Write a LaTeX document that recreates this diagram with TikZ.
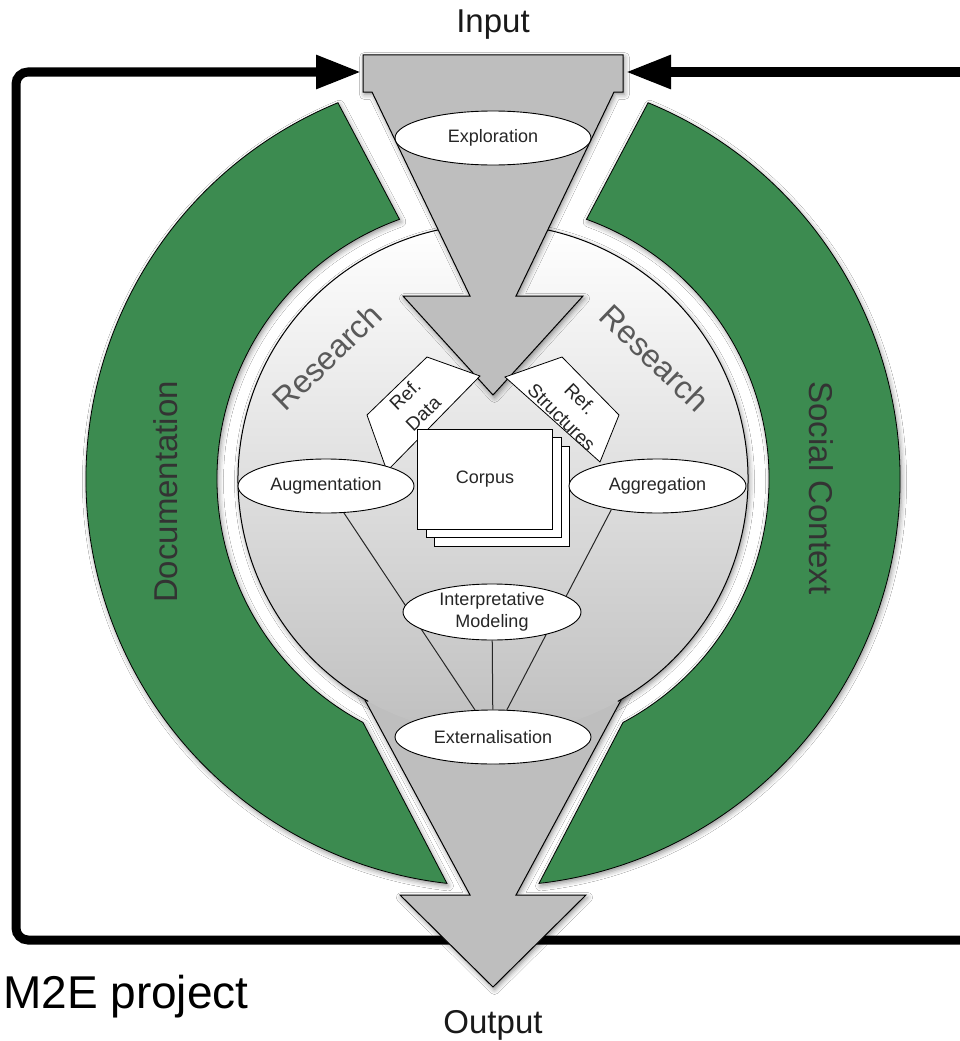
\documentclass[tikz,border=0pt]{standalone}
\usepackage{fontspec}
\setmainfont{Liberation Sans}
\usetikzlibrary{shapes.geometric,arrows.meta,shadows.blur}
\definecolor{ringgreen}{RGB}{60,139,80}
\definecolor{funnelgray}{RGB}{190,190,190}
\begin{document}
\begin{tikzpicture}[x=1pt,y=-1pt,
  shad/.style={blur shadow={shadow xshift=1.5pt, shadow yshift=-2.5pt, shadow blur radius=5pt, shadow opacity=45}},
  greenpiece/.style={fill=ringgreen, draw=black, line width=0.8pt, shad},
  arrowshape/.style={fill=funnelgray, draw=black, line width=1pt, shad},
  bubble/.style={ellipse, draw=black, line width=0.9pt, fill=white, inner sep=0pt,
    minimum height=54pt, font=\fontsize{18}{22}\selectfont, text=black!85, align=center},
  tagshape/.style={fill=white, draw=black, line width=0.8pt},
  tagtext/.style={font=\fontsize{19}{26}\selectfont, text=black!85, align=center, inner sep=0pt},
  pagebox/.style={rectangle, draw=black, line width=1pt, fill=white,
    minimum width=135pt, minimum height=100pt, inner sep=0pt},
  loopline/.style={line width=9pt, draw=black},
  bigtip/.style={-{Triangle[length=45pt,width=32pt]}},
  link/.style={draw=black!85, line width=1pt},
  bigtext/.style={font=\fontsize{33}{40}\selectfont, text=black!90},
  researchtext/.style={font=\fontsize{32}{38}\selectfont, text=black!65},
  ringtext/.style={font=\fontsize{33}{40}\selectfont, text=black!80},
]
\useasboundingbox (0,0) rectangle (959,1041);
\fill[white] (0,0) rectangle (959,1041);

% centre of the circles
\coordinate (C) at (493,479);

% feedback loop
\coordinate (fL) at (361,72);
\coordinate (fR) at (626,72);
\coordinate (loopTL) at (16,72);
\coordinate (loopBL) at (16,940);
\coordinate (loopBR) at (975,940);
\coordinate (loopTR) at (975,72);
\draw[loopline, rounded corners=12pt, bigtip] (loopBR) -- (loopBL) -- (loopTL) -- (fL);
\draw[loopline, bigtip] (loopTR) -- (fR);

% green ring pieces
\path[greenpiece] ([shift={(112.4:407pt)}]C) arc[start angle=112.4, end angle=263.5, radius=407pt]
  -- ([shift={(241.9:276pt)}]C) arc[start angle=241.9, end angle=109.8, radius=276pt] -- cycle;
\path[greenpiece] ([shift={(67.6:407pt)}]C) arc[start angle=67.6, end angle=-83.5, radius=407pt]
  -- ([shift={(-61.9:276pt)}]C) arc[start angle=-61.9, end angle=70.2, radius=276pt] -- cycle;
\node[ringtext, rotate=90] (doc) at (166,492) {Documentation};
\node[ringtext, rotate=-90] (soc) at (821,488) {Social Context};

% shadow of the inner circle (drawn below the output arrow)
\path[shad] (C) circle[radius=255pt];

% output arrow
\path[arrowshape] (338,650) -- (470,895) -- (400,895) -- (493,987) -- (586,895) -- (516,895) -- (648,650) -- cycle;

% inner circle
\path[top color=white, bottom color=black!25] (C) circle[radius=255pt];
\draw[line width=1pt] ([shift={(-60.7:255pt)}]C) arc[start angle=-60.7, end angle=240.7, radius=255pt];

% input funnel
\path[arrowshape] (363,55) -- (623,55) -- (623,92) -- (614,92) -- (516,296) -- (583,296) -- (493,395)
  -- (403,296) -- (470,296) -- (372,92) -- (363,92) -- cycle;

% labels outside
\node[bigtext, anchor=base] (input) at (493,33) {Input};
\node[bigtext, anchor=base] (output) at (493,1033) {Output};
\node[font=\fontsize{46}{55}\selectfont, anchor=base west, inner sep=0pt] (m2e) at (3,1008) {M2E project};

% research labels
\node[researchtext, rotate=44] (resL) at (327,357) {Research};
\node[researchtext, rotate=-44] (resR) at (655,358) {Research};

% reference tags
\path[tagshape] (427,357) -- (480,376) -- (387,471) -- (367,415) -- cycle;
\path[tagshape] (505,377) -- (562,357) -- (619,415) -- (600,462) -- cycle;

% corpus stack
\node[pagebox] (c3) at (501.5,496.5) {};
\node[pagebox] (c2) at (493.5,487.5) {};
\node[pagebox, font=\fontsize{18}{22}\selectfont, text=black!85] (corpus) at (485,479) {Corpus};

% tag texts
\node[tagtext, rotate=44] (refdata) at (414,404) {Ref.\\Data};
\node[tagtext, rotate=-45] (refstruct) at (571,408) {Ref.\\Structures};

% process ellipses
\node[bubble, minimum width=196pt] (explo) at (493,138) {Exploration};
\node[bubble, minimum width=176pt] (aug) at (326,486) {Augmentation};
\node[bubble, minimum width=177pt] (agg) at (657.5,486) {Aggregation};
\node[bubble, minimum width=196pt] (ext) at (493,737) {Externalisation};
\draw[link] (aug) -- (ext);
\draw[link] (agg.207) -- (ext.63);
\node[bubble, minimum width=178pt, minimum height=56pt] (interp) at (492,612) {Interpretative\\Modeling};
\draw[link] (interp) -- (ext);
\end{tikzpicture}
\end{document}
